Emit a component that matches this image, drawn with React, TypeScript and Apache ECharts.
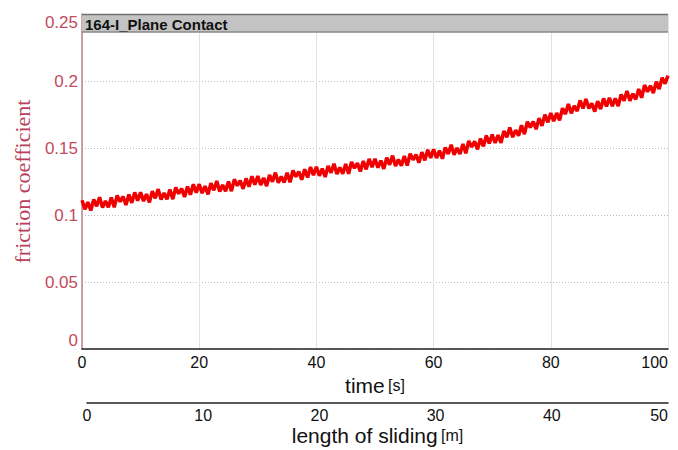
import React, { useEffect, useRef } from "react";
import * as echarts from "echarts";

// friction coefficient sampled every 0.5 s, t = 0 .. 100 s
const SAMPLE_STEP = 0.5;
const friction: number[] = [
  0.1110, 0.1043, 0.1096, 0.1034, 0.1117, 0.1065, 0.1133, 0.1056, 0.1104, 0.1057,
  0.1130, 0.1058, 0.1146, 0.1099, 0.1137, 0.1075, 0.1153, 0.1091, 0.1169, 0.1107,
  0.1170, 0.1103, 0.1156, 0.1094, 0.1177, 0.1125, 0.1193, 0.1116, 0.1164, 0.1117,
  0.1190, 0.1118, 0.1206, 0.1159, 0.1197, 0.1135, 0.1213, 0.1151, 0.1229, 0.1167,
  0.1230, 0.1163, 0.1216, 0.1154, 0.1237, 0.1185, 0.1253, 0.1176, 0.1224, 0.1177,
  0.1250, 0.1178, 0.1266, 0.1219, 0.1257, 0.1195, 0.1273, 0.1211, 0.1289, 0.1227,
  0.1290, 0.1224, 0.1277, 0.1216, 0.1299, 0.1248, 0.1316, 0.1240, 0.1288, 0.1242,
  0.1315, 0.1244, 0.1332, 0.1286, 0.1324, 0.1263, 0.1341, 0.1280, 0.1358, 0.1297,
  0.1360, 0.1293, 0.1346, 0.1284, 0.1367, 0.1315, 0.1383, 0.1306, 0.1354, 0.1307,
  0.1380, 0.1308, 0.1396, 0.1349, 0.1387, 0.1325, 0.1403, 0.1341, 0.1419, 0.1357,
  0.1420, 0.1353, 0.1406, 0.1344, 0.1427, 0.1375, 0.1443, 0.1366, 0.1414, 0.1367,
  0.1440, 0.1369, 0.1458, 0.1412, 0.1451, 0.1390, 0.1469, 0.1408, 0.1487, 0.1426,
  0.1490, 0.1425, 0.1480, 0.1420, 0.1505, 0.1455, 0.1525, 0.1450, 0.1500, 0.1455,
  0.1530, 0.1461, 0.1552, 0.1508, 0.1549, 0.1490, 0.1571, 0.1512, 0.1593, 0.1534,
  0.1600, 0.1538, 0.1596, 0.1539, 0.1627, 0.1580, 0.1653, 0.1581, 0.1634, 0.1592,
  0.1670, 0.1603, 0.1696, 0.1654, 0.1697, 0.1640, 0.1723, 0.1666, 0.1749, 0.1692,
  0.1760, 0.1701, 0.1761, 0.1707, 0.1797, 0.1753, 0.1828, 0.1759, 0.1814, 0.1775,
  0.1855, 0.1795, 0.1865, 0.1795, 0.1833, 0.1772, 0.1850, 0.1790, 0.1870, 0.1810,
  0.1875, 0.1813, 0.1870, 0.1813, 0.1900, 0.1853, 0.1925, 0.1853, 0.1905, 0.1863,
  0.1940, 0.1875, 0.1970, 0.1920, 0.1965, 0.1910, 0.1995, 0.1940, 0.2025, 0.1980, 0.2040,
];

const TIME_MAX = 100;
const TIME_INTERVAL = 20;
const SLIDE_MAX = 50;
const SLIDE_INTERVAL = 10;
const Y_MAX = 0.25;
const Y_INTERVAL = 0.05;
const TITLE = "164-I_Plane Contact";

export default function App() {
  const ref = useRef<HTMLDivElement>(null);
  useEffect(() => {
    if (!ref.current) return;
    const chart = echarts.init(ref.current, undefined, { renderer: "svg" });
    const seriesData = friction.map((v, i) => [i * SAMPLE_STEP, v]);
    const L = 82, R = 10, TOP = 14, BOTTOM_Y = 349;
    const redLabel = "#c44a5c";
    const sans = "Liberation Sans, Arial, sans-serif";
    chart.setOption({
      animation: false,
      backgroundColor: "#ffffff",
      grid: [
        { left: L, right: R, top: TOP, bottom: 450 - BOTTOM_Y, containLabel: false, outerBoundsMode: "none" },
        { left: L + 5, right: R, top: 402, height: 1, containLabel: false, outerBoundsMode: "none" },
      ],
      xAxis: [
        {
          type: "value",
          gridIndex: 0,
          min: 0,
          max: TIME_MAX,
          interval: TIME_INTERVAL,
          axisLine: { show: true, onZero: false, lineStyle: { color: "#222", width: 1.5 } },
          axisTick: { show: false },
          axisLabel: { color: "#111", fontSize: 16, fontFamily: sans, margin: 5, alignMaxLabel: "right" },
          splitLine: { show: true, lineStyle: { color: "#e2e2e2", width: 1, type: "solid" } },
          name: "{a|time} {b|[s]}",
          nameLocation: "middle",
          nameGap: 20,
          nameTextStyle: {
            rich: {
              a: { fontSize: 21, color: "#111", fontFamily: sans },
              b: { fontSize: 16, color: "#111", fontFamily: sans },
            },
          },
        },
        {
          type: "value",
          gridIndex: 1,
          min: 0,
          max: SLIDE_MAX,
          interval: SLIDE_INTERVAL,
          axisLine: { show: true, onZero: false, lineStyle: { color: "#222", width: 1.5 } },
          axisTick: { show: false },
          axisLabel: { color: "#111", fontSize: 16, fontFamily: sans, margin: 4, alignMaxLabel: "right" },
          splitLine: { show: false },
          name: "{a|length of sliding} {b|[m]}",
          nameLocation: "middle",
          nameGap: 22,
          nameTextStyle: {
            rich: {
              a: { fontSize: 21, color: "#111", fontFamily: sans },
              b: { fontSize: 16, color: "#111", fontFamily: sans },
            },
          },
        },
      ],
      yAxis: [
        {
          type: "value",
          gridIndex: 0,
          min: 0,
          max: Y_MAX,
          interval: Y_INTERVAL,
          axisLine: { show: true, onZero: false, lineStyle: { color: "#b88a8a", width: 1.5 } },
          axisTick: { show: false },
          axisLabel: {
            color: redLabel,
            fontSize: 17,
            fontFamily: sans,
            margin: 4,
            verticalAlignMaxLabel: "top",
            verticalAlignMinLabel: "bottom",
          },
          splitLine: { show: true, lineStyle: { color: "#bdbdbd", width: 1, type: [1, 2] } },
          name: "friction coefficient",
          nameLocation: "middle",
          nameGap: 49,
          nameTextStyle: { color: "#b8405a", fontSize: 22, fontFamily: "Liberation Serif, Times New Roman, serif" },
        },
        {
          type: "value",
          gridIndex: 1,
          min: 0,
          max: 1,
          show: false,
        },
      ],
      graphic: [
        {
          type: "rect",
          shape: { x: L, y: TOP, width: 678 - R - L, height: 18 },
          style: { fill: "#c3c3c3", stroke: null },
          z: 10,
        },
        {
          type: "line",
          shape: { x1: L, y1: TOP + 0.5, x2: 678 - R, y2: TOP + 0.5 },
          style: { stroke: "#707070", lineWidth: 1.5 },
          z: 11,
        },
        {
          type: "line",
          shape: { x1: L, y1: TOP + 18, x2: 678 - R, y2: TOP + 18 },
          style: { stroke: "#8a8a8a", lineWidth: 1.5 },
          z: 11,
        },
        {
          type: "text",
          x: L + 3,
          y: TOP + 10,
          style: {
            text: TITLE,
            fill: "#111",
            font: "bold 15px 'Liberation Sans', Arial, sans-serif",
            verticalAlign: "middle",
            align: "left",
          },
          z: 12,
        },
      ],
      series: [
        {
          type: "line",
          xAxisIndex: 0,
          yAxisIndex: 0,
          data: seriesData,
          showSymbol: false,
          symbol: "none",
          lineStyle: { color: "#f00000", width: 3.5 },
          z: 5,
        },
        {
          type: "line",
          xAxisIndex: 1,
          yAxisIndex: 1,
          data: [],
          showSymbol: false,
        },
      ],
    });
    return () => chart.dispose();
  }, []);
  return <div ref={ref} style={{ width: 678, height: 450, position: "absolute", left: 0, top: 0 }} />;
}
